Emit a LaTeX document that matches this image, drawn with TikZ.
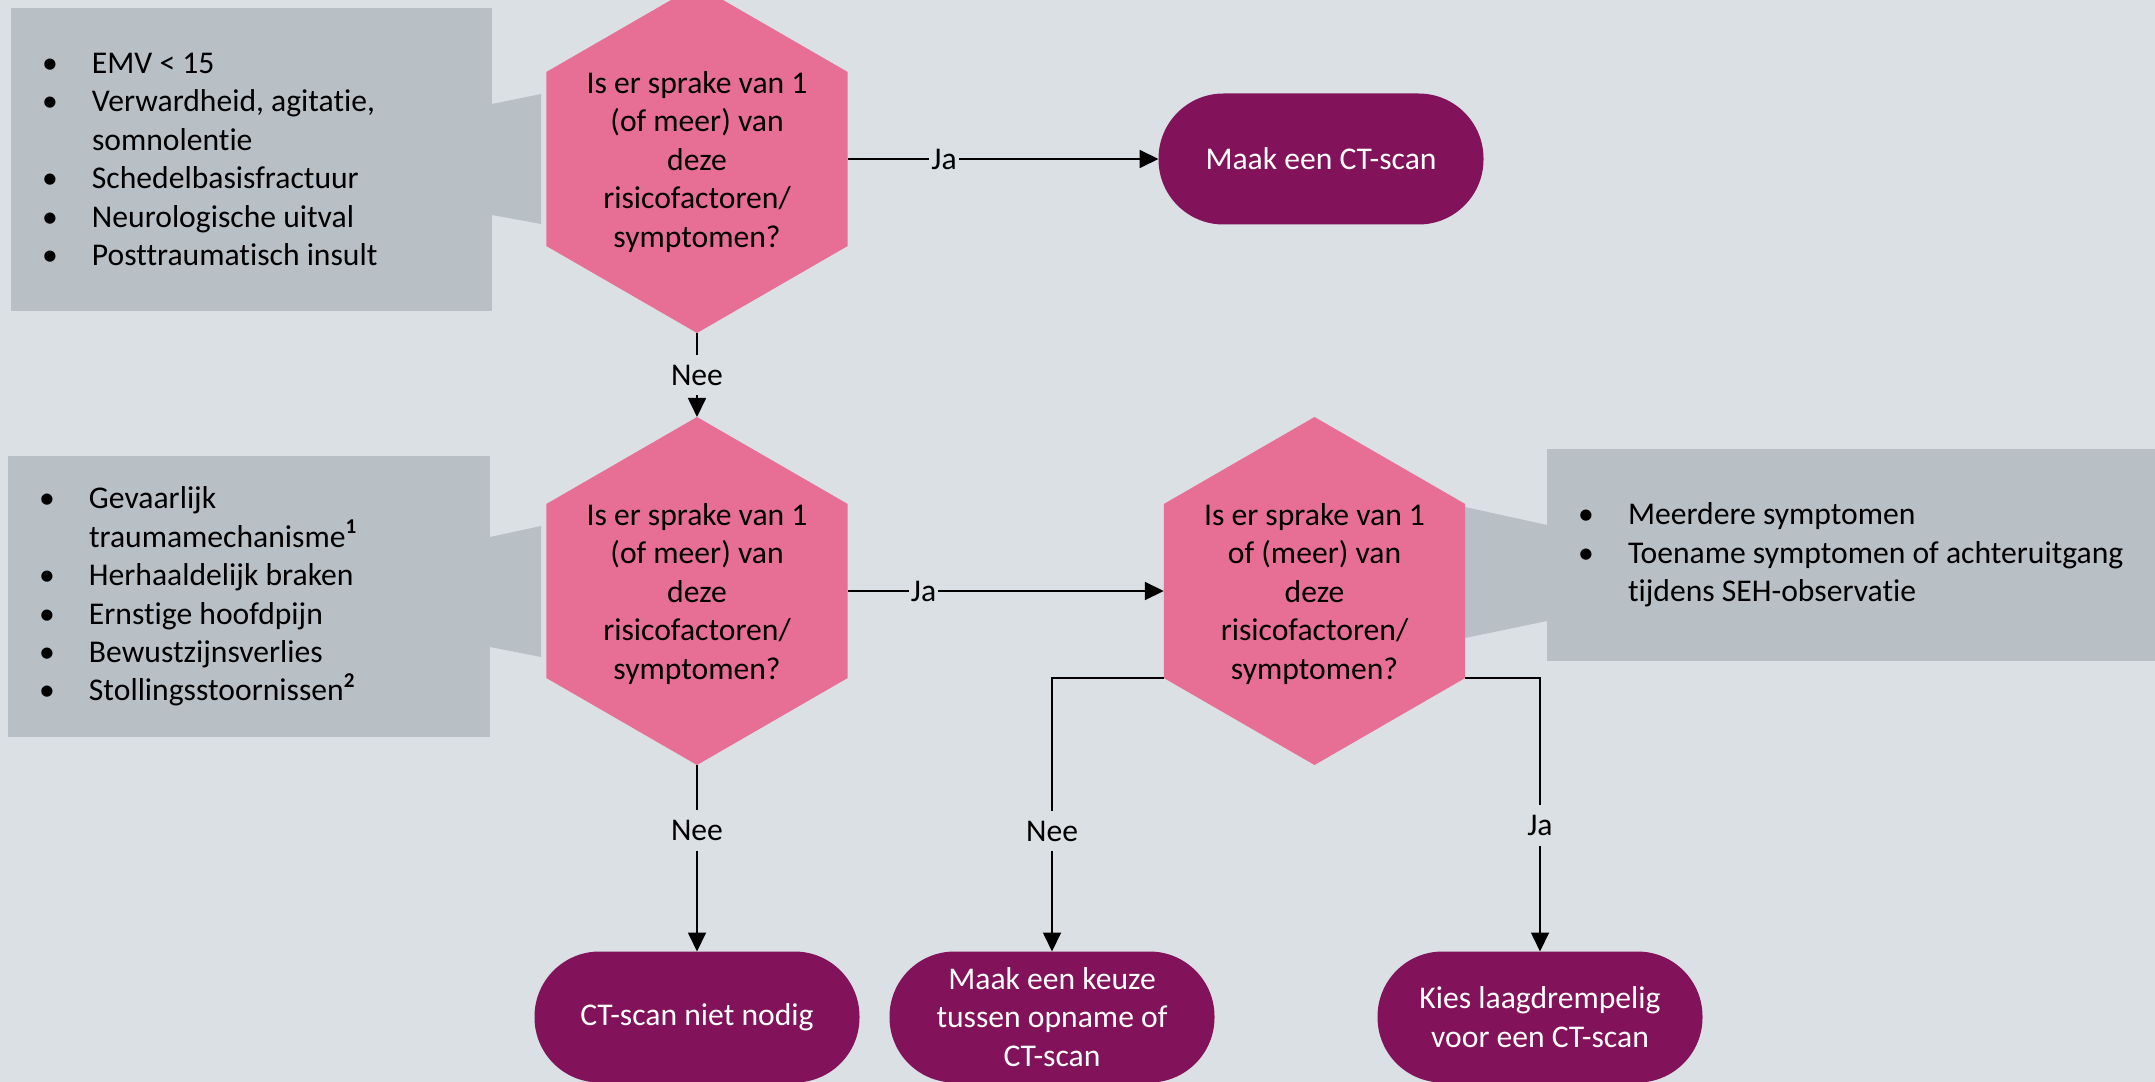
\documentclass[tikz,border=0pt]{standalone}
\usepackage{fontspec}
\setmainfont{Carlito}[Ligatures=NoCommon]
\usepackage{tikz}
\usepackage{xcolor}
\usetikzlibrary{arrows.meta, shapes.geometric}

\definecolor{bgcol}{RGB}{219,224,228}
\definecolor{boxcol}{RGB}{184,191,197}
\definecolor{hexcol}{RGB}{231,111,150}
\definecolor{endcol}{RGB}{130,19,90}

\newcommand{\itm}{\hspace*{3.4mm}\makebox[1mm]{\textbullet}\hspace*{3.7mm}}
\newcommand{\ind}{\hspace*{8.1mm}}

\tikzset{
    every node/.style={font=\fontsize{9pt}{10.95pt}\selectfont, outer sep=0pt},
    question/.style={regular polygon, regular polygon sides=6, shape border rotate=90, minimum size=34.8mm, inner sep=0pt, fill=hexcol, label={[align=center, yshift=-0.3mm]center:#1}},
    outcome/.style={rectangle, rounded corners=6.5mm, fill=endcol, text=white, minimum width=32.5mm, minimum height=13.1mm, inner sep=0pt, align=center},
    info/.style={rectangle, fill=boxcol, inner sep=0pt, align=flush left},
    arr/.style={-{Triangle[length=1.9mm, width=1.8mm]}, line width=0.5pt},
    lbl/.style={fill=bgcol, inner xsep=0.2mm, inner ysep=1mm}
}

\begin{document}
\begin{tikzpicture}[x=0.1mm, y=-0.1mm]
    \useasboundingbox (0, 0) rectangle (2155, 1082);
    \clip (0, 0) rectangle (2155, 1082);
    \fill[bgcol] (0, 0) rectangle (2155, 1082);

    % callout wedges
    \fill[boxcol] (492, 104) -- (541, 94) -- (541, 224) -- (492, 215) -- cycle;
    \fill[boxcol] (490, 537) -- (541, 526) -- (541, 657) -- (490, 647) -- cycle;
    \fill[boxcol] (1465, 507) -- (1547, 525) -- (1547, 621) -- (1465, 638) -- cycle;

    % lists
    \node[info, text width=48.1mm, minimum height=30.3mm] (i1) at (251.5, 159.5) {\itm EMV < 15\\ \itm Verwardheid, agitatie,\\ \ind somnolentie\\ \itm Schedelbasisfractuur\\ \itm Neurologische uitval\\ \itm Posttraumatisch insult};
    \node[info, text width=48.2mm, minimum height=28.1mm] (i2) at (249, 596.5) {\itm Gevaarlijk\\ \ind traumamechanisme\textsuperscript{\textbf{1}}\\ \itm Herhaaldelijk braken\\ \itm Ernstige hoofdpijn\\ \itm Bewustzijnsverlies\\ \itm Stollingsstoornissen\textsuperscript{\textbf{2}}};
    \node[info, text width=60.8mm, minimum height=21.2mm] (i3) at (1851, 555) {\itm Meerdere symptomen\\ \itm Toename symptomen of achteruitgang\\ \ind tijdens SEH-observatie};

    % questions
    \node[question={Is er sprake van 1\\(of meer) van\\deze\\risicofactoren/\\symptomen?}] (h1) at (697, 159) {};
    \node[question={Is er sprake van 1\\(of meer) van\\deze\\risicofactoren/\\symptomen?}] (h2) at (697, 591) {};
    \node[question={Is er sprake van 1\\of (meer) van\\deze\\risicofactoren/\\symptomen?}] (h3) at (1314.5, 591) {};

    % outcomes
    \node[outcome] (t1) at (1321, 159) {Maak een CT-scan};
    \node[outcome] (b1) at (697, 1017) {CT-scan niet nodig};
    \node[outcome] (b2) at (1052, 1017) {Maak een keuze\\tussen opname of\\CT-scan};
    \node[outcome] (b3) at (1540, 1017) {Kies laagdrempelig\\voor een CT-scan};

    \draw[arr] (h1) -- node[lbl, pos=0.31] {Ja} (t1);
    \draw[arr] (h1) -- node[lbl] {Nee} (h2);
    \draw[arr] (h2) -- node[lbl, pos=0.24] {Ja} (h3);
    \draw[arr] (h2) -- node[lbl, pos=0.35] {Nee} (b1);
    \draw[arr] (h3.210) -| node[lbl, pos=0.78] {Nee} (b2);
    \draw[arr] (h3.330) -| node[lbl, pos=0.77] {Ja} (b3);
\end{tikzpicture}
\end{document}
